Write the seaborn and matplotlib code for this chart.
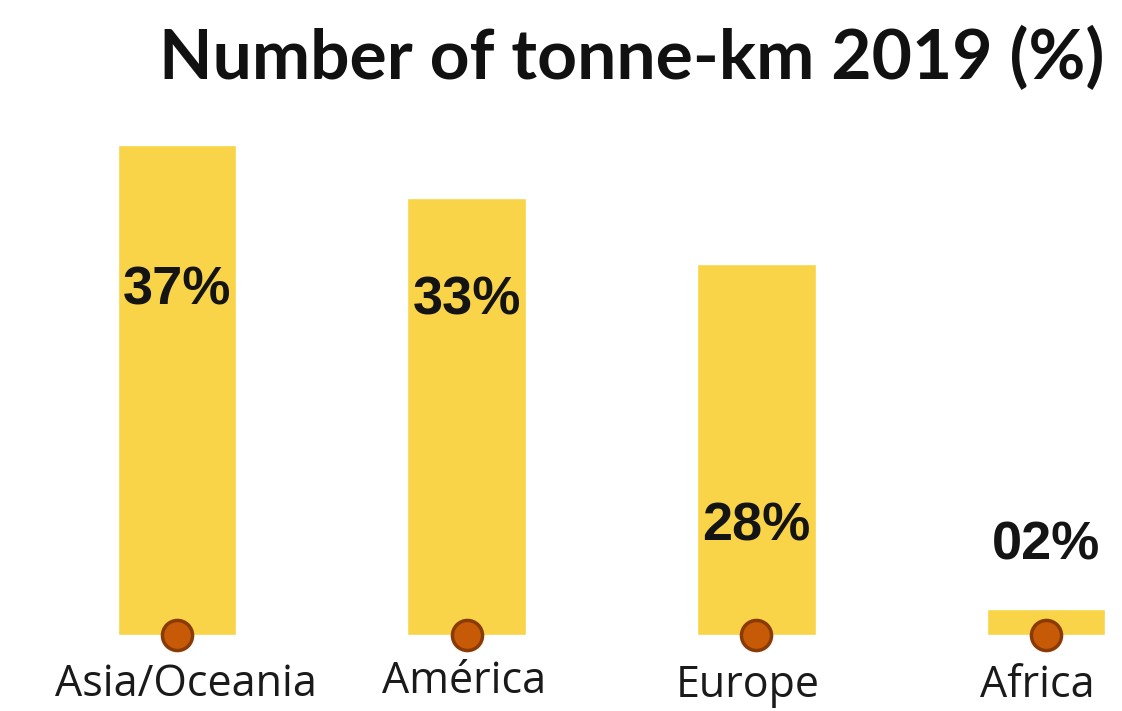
import matplotlib
matplotlib.use("Agg")
import matplotlib.pyplot as plt
import seaborn as sns
import pandas as pd

regions = ["Asia/Oceania", "América", "Europe", "Africa"]
share = [37, 33, 28, 2]
share_labels = ["37%", "33%", "28%", "02%"]

sns.set_theme(style="white")
plt.rcParams["font.family"] = ["Lato", "DejaVu Sans"]

W, H = 1122, 711
fig = plt.figure(figsize=(W / 100, H / 100), dpi=100)
ax = fig.add_axes([0, 0, 1, 1])

df = pd.DataFrame({"region": regions, "share": share})
sns.barplot(data=df, x="region", y="share", color="#F9D448", saturation=1,
            width=0.41, ax=ax)

# category centres at 177 px, spaced ~290 px; baseline 76 px above bottom,
# 37 % reaching 490 px
step = 289.7
ax.set_xlim(-177 / step, (W - 177) / step)
px_per_unit = 490 / 37
ax.set_ylim(-76 / px_per_unit, (H - 76) / px_per_unit)
ax.axis("off")

# brown knobs at the foot of each bar
ax.scatter(range(len(regions)), [0] * len(regions), s=470, color="#C65A06",
           edgecolor="#8A3A05", linewidth=2.5, zorder=5)

# value labels (axes-fraction heights)
label_pos = [(0, 0.592), (1, 0.578), (2, 0.259), (3, 0.233)]
for (xi, yf), txt in zip(label_pos, share_labels):
    ax.text(xi, yf, txt, transform=ax.get_xaxis_transform(), ha="center",
            va="center", fontsize=39, fontweight="bold", color="#141414",
            family=["Liberation Sans", "DejaVu Sans"], zorder=6)

# region names below the bars
name_pos = [(0.03, 0.037), (-0.01, 0.041), (-0.03, 0.035), (-0.03, 0.035)]
for i, ((dx, yf), name) in enumerate(zip(name_pos, regions)):
    ax.text(i + dx, yf, name, transform=ax.get_xaxis_transform(), ha="center",
            va="center", fontsize=31, color="#1a1a1a",
            family=["Open Sans", "DejaVu Sans"])

fig.text(0.563, 0.918, "Number of tonne-km 2019 (%)", ha="center", va="center",
         fontsize=50, fontweight="bold", color="#111111")

fig.savefig("out.png", dpi=100)
